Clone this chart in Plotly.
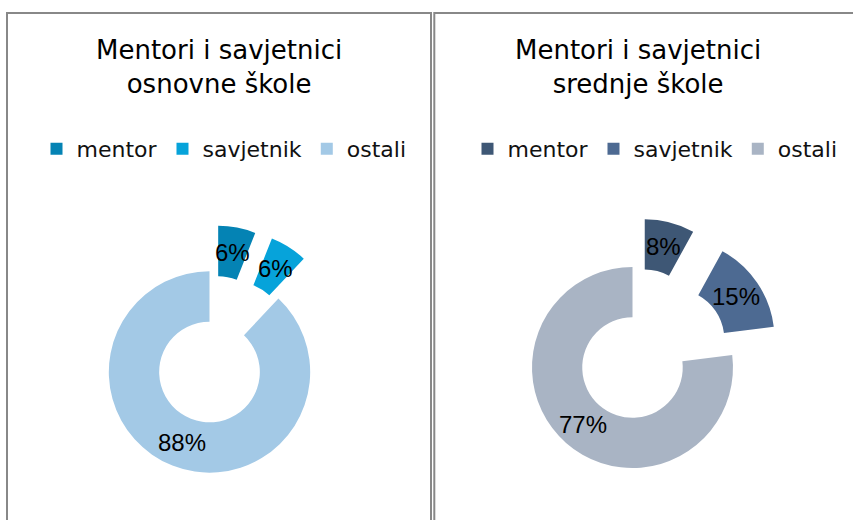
import math
import plotly.graph_objects as go

W, H = 853, 520

labels = ["mentor", "savjetnik", "ostali"]
osnovne_values = [6, 6, 88]
srednje_values = [8, 15, 77]
osnovne_colors = ["#0483B4", "#06A3DA", "#A3C9E6"]
srednje_colors = ["#3E5775", "#4D6A92", "#A9B4C4"]
osnovne_pull = [0.46, 0.47, 0]
srednje_pull = [0.49, 0.5, 0]
title_osnovne = "Mentori i savjetnici<br>osnovne škole"
title_srednje = "Mentori i savjetnici<br>srednje škole"

HOLE = 0.5


def px(x):
    return x / W


def py(y):
    return 1 - y / H


osnovne_domain = dict(x=[px(61.5), px(357.5)], y=[0, 296 / H])
srednje_domain = dict(x=[px(481.75), px(783.25)], y=[0, 305 / H])


def slice_labels(values, pulls, domain):
    """Percent labels at the middle of each (pulled) ring segment, using the
    same centre/radius rule that plotly uses for a pie inside its domain."""
    bw = W * (domain["x"][1] - domain["x"][0])
    bh = H * (domain["y"][1] - domain["y"][0])
    r = min(bw, bh) / 2 / (1 + max(pulls))
    cx = W * (domain["x"][0] + domain["x"][1]) / 2
    cy = H * (1 - domain["y"][0]) - bh / 2
    total = sum(values)
    out = []
    start = 0.0
    for v, p in zip(values, pulls):
        frac = v / total
        mid = 2 * math.pi * (start + frac / 2)
        rad = p * r + r * (1 + HOLE) / 2
        x = cx + rad * math.sin(mid)
        y = cy - rad * math.cos(mid)
        out.append(dict(
            text=f"{round(frac * 100)}%", x=x / W, y=1 - y / H,
            xref="paper", yref="paper", xanchor="center", yanchor="middle",
            showarrow=False,
            font=dict(family="Liberation Sans", size=24, color="black"),
        ))
        start += frac
    return out


fig = go.Figure()

fig.add_trace(go.Pie(
    labels=labels, values=osnovne_values, hole=HOLE, sort=False,
    direction="clockwise", rotation=0, pull=osnovne_pull,
    marker=dict(colors=osnovne_colors, line=dict(width=0)),
    textinfo="none", domain=osnovne_domain,
    legend="legend", legendgroup="osnovne", hoverinfo="label+percent",
))

fig.add_trace(go.Pie(
    labels=labels, values=srednje_values, hole=HOLE, sort=False,
    direction="clockwise", rotation=0, pull=srednje_pull,
    marker=dict(colors=srednje_colors, line=dict(width=0)),
    textinfo="none", domain=srednje_domain,
    legend="legend2", legendgroup="srednje", hoverinfo="label+percent",
))

legend_common = dict(
    orientation="h", xanchor="center", yanchor="middle", traceorder="normal",
    font=dict(family="DejaVu Sans", size=22, color="#111111"),
    bgcolor="rgba(0,0,0,0)", itemclick=False, itemdoubleclick=False,
)

annotations = [
    dict(text=title_osnovne, x=px(218.5), y=py(33), xref="paper", yref="paper",
         xanchor="center", yanchor="top", showarrow=False,
         font=dict(family="DejaVu Sans", size=26, color="black")),
    dict(text=title_srednje, x=px(637.5), y=py(33), xref="paper", yref="paper",
         xanchor="center", yanchor="top", showarrow=False,
         font=dict(family="DejaVu Sans", size=26, color="black")),
]
annotations += slice_labels(osnovne_values, osnovne_pull, osnovne_domain)
annotations += slice_labels(srednje_values, srednje_pull, srednje_domain)

fig.update_layout(
    width=W, height=H,
    margin=dict(l=0, r=0, t=0, b=0),
    paper_bgcolor="white", plot_bgcolor="white",
    legend=dict(x=px(224), y=py(149), **legend_common),
    legend2=dict(x=px(655), y=py(149), **legend_common),
    shapes=[
        dict(type="rect", xref="paper", yref="paper",
             x0=px(7), x1=px(431), y0=-0.1, y1=py(13),
             line=dict(color="#888888", width=2), fillcolor="rgba(0,0,0,0)"),
        dict(type="rect", xref="paper", yref="paper",
             x0=px(434.3), x1=1.1, y0=-0.1, y1=py(13),
             line=dict(color="#888888", width=2), fillcolor="rgba(0,0,0,0)"),
    ],
    annotations=annotations,
)

fig.write_html("out.html", config={"displayModeBar": False},
               post_script="document.body.style.margin='0px';")
